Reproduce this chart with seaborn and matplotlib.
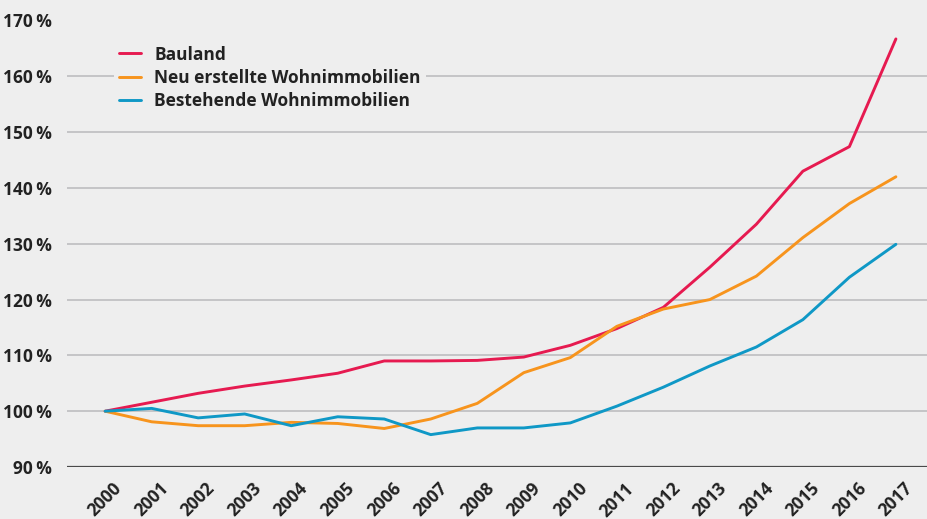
import numpy as np
import pandas as pd
import matplotlib.pyplot as plt
import seaborn as sns

# Preisindex (2000 = 100 %)
years = list(range(2000, 2018))
bauland = [100.0, 101.6, 103.2, 104.5, 105.6, 106.8, 109.0, 109.0, 109.1, 109.7,
           111.8, 114.8, 118.6, 125.8, 133.5, 143.0, 147.4, 166.7]
neu_erstellt = [100.0, 98.1, 97.4, 97.4, 98.0, 97.8, 96.9, 98.6, 101.4, 106.9,
                109.6, 115.2, 118.3, 120.0, 124.2, 131.1, 137.2, 142.0]
bestehend = [100.0, 100.5, 98.8, 99.5, 97.4, 99.0, 98.6, 95.8, 97.0, 97.0,
             97.9, 100.9, 104.3, 108.1, 111.5, 116.4, 124.0, 129.9]
series_names = ["Bauland", "Neu erstellte Wohnimmobilien", "Bestehende Wohnimmobilien"]
y_ticks = [90, 100, 110, 120, 130, 140, 150, 160, 170]

colors = ["#e61a50", "#f7941d", "#0f98c6"]
bg = "#eeeeee"

df = pd.DataFrame({
    "Jahr": years * 3,
    "Index": bauland + neu_erstellt + bestehend,
    "Reihe": [series_names[0]] * len(years) + [series_names[1]] * len(years)
             + [series_names[2]] * len(years),
})

sns.set_style("white")
plt.rcParams['font.family'] = ['Open Sans', 'DejaVu Sans']
plt.rcParams['font.weight'] = 'bold'

fig = plt.figure(figsize=(9.28, 5.19), dpi=100, facecolor=bg)
ax = fig.add_axes([67 / 928, 1 - 467 / 519, 861 / 928, (467 - 20.5) / 519])
ax.set_facecolor(bg)

for yv in y_ticks[1:]:
    ax.axhline(yv, color="#c4c4c6", lw=1.4, zorder=0)
ax.axhline(90, color="#4a4a4a", lw=1.6, zorder=3)

sns.lineplot(data=df, x="Jahr", y="Index", hue="Reihe", palette=colors,
             linewidth=2.1, ax=ax, legend=True)

ax.set_xlim(1999.18, 2017.69)
ax.set_ylim(90, 170)
ax.set_xticks(years)
ax.set_xticklabels([str(y) for y in years], rotation=45, ha="center",
                   fontsize=12.5, fontweight="bold", color="#222222")
ax.set_yticks(y_ticks)
ax.set_yticklabels([f"{v}\u2009%" for v in y_ticks], fontsize=12.5,
                   fontweight="bold", color="#222222")
ax.tick_params(axis="x", length=0, pad=9)
ax.tick_params(axis="y", length=0, pad=11)
ax.set_xlabel("")
ax.set_ylabel("")
for s in ax.spines.values():
    s.set_visible(False)

leg = ax.legend(loc="upper left", bbox_to_anchor=(0.044, 0.975), frameon=True,
                facecolor=bg, edgecolor=bg, framealpha=1, fontsize=12.5,
                handlelength=1.3, handletextpad=0.75, labelspacing=0.3,
                borderpad=0.3)
leg.get_frame().set_linewidth(0)
for t in leg.get_texts():
    t.set_fontweight("bold")
    t.set_color("#222222")
for h in leg.get_lines():
    h.set_linewidth(2.1)

fig.savefig("out.png", dpi=100, facecolor=bg)
